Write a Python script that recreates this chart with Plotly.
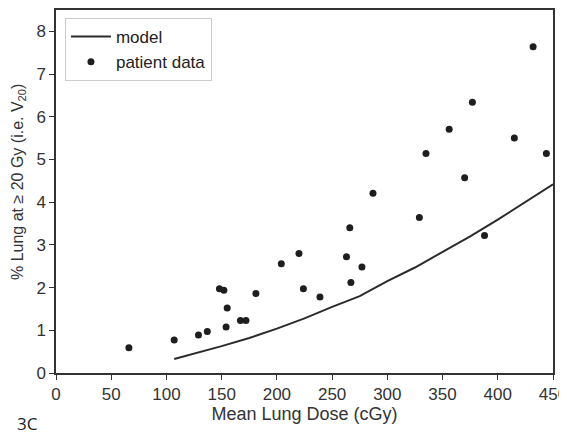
import plotly.graph_objects as go

patient_dose = [66, 107, 129, 137, 148, 152, 154, 155, 167, 172, 181, 204, 220, 224, 239,
                263, 266, 267, 277, 287, 329, 335, 356, 370, 377, 388, 415, 432, 444]
patient_v20 = [0.59, 0.77, 0.89, 0.97, 1.97, 1.94, 1.08, 1.52, 1.23, 1.23, 1.86, 2.56, 2.80, 1.97, 1.78,
               2.72, 3.40, 2.12, 2.48, 4.21, 3.64, 5.14, 5.71, 4.57, 6.34, 3.22, 5.50, 7.64, 5.14]

model_dose = [107, 125, 150, 175, 200, 225, 250, 275, 300, 325, 350, 375, 400, 425, 450]
model_v20 = [0.33, 0.45, 0.63, 0.82, 1.04, 1.28, 1.55, 1.80, 2.15, 2.47, 2.83, 3.20, 3.59, 4.00, 4.42]

x_ticks = [0, 50, 100, 150, 200, 250, 300, 350, 400, 450]
y_ticks = [0, 1, 2, 3, 4, 5, 6, 7, 8]

FONT = "Liberation Sans, Arial, sans-serif"

fig = go.Figure()
fig.add_trace(go.Scatter(x=model_dose, y=model_v20, mode="lines", name="model",
                         line=dict(color="#2b2b2b", width=2)))
fig.add_trace(go.Scatter(x=patient_dose, y=patient_v20, mode="markers", name="patient data",
                         marker=dict(color="#1e1e1e", size=7)))

axis_common = dict(showline=True, linecolor="#333333", linewidth=1.5, mirror=True,
                   ticks="outside", ticklen=5, tickwidth=1.2, tickcolor="#333333",
                   showgrid=False, zeroline=False, automargin=False,
                   ticklabeloverflow="allow",
                   tickfont=dict(family=FONT, size=17, color="#333333"))

# the page body has an 8px margin, so the figure is drawn 8px in from the top-left
fig.update_layout(
    width=559, height=431,
    margin=dict(l=48, r=14, t=2, b=66),
    paper_bgcolor="white", plot_bgcolor="white",
    font=dict(family=FONT, color="#333333", size=17),
    xaxis=dict(range=[0, 450], tickvals=x_ticks,
               title=dict(text="Mean Lung Dose (cGy)",
                          font=dict(family=FONT, size=18, color="#333333"),
                          standoff=2),
               **axis_common),
    yaxis=dict(range=[0, 8.5], tickvals=y_ticks, **axis_common),
    legend=dict(x=0.018, y=0.978, xanchor="left", yanchor="top",
                bgcolor="white", bordercolor="#cccccc", borderwidth=1,
                font=dict(family=FONT, size=17, color="#222222"),
                itemwidth=40, tracegroupgap=2),
    showlegend=True,
)

fig.add_annotation(text="% Lung at \u2265 20 Gy (i.e. V<sub>20</sub>)",
                   xref="paper", yref="paper", x=-0.0765, y=0.526,
                   xanchor="center", yanchor="middle", textangle=-90, showarrow=False,
                   font=dict(family=FONT, size=16, color="#333333"))

fig.add_annotation(text="3C", xref="paper", yref="paper", x=-0.0825, y=-0.176,
                   xanchor="left", yanchor="bottom", showarrow=False,
                   font=dict(family="Open Sans, sans-serif", size=17, color="#222222"))

fig.write_html("out.html")
